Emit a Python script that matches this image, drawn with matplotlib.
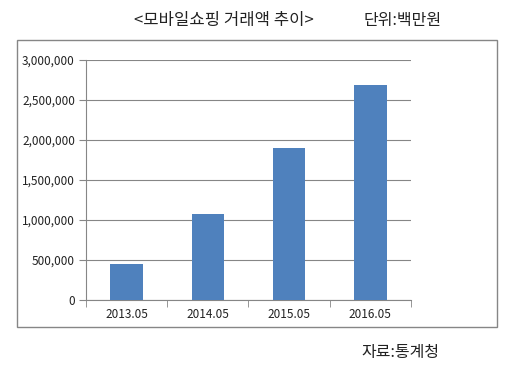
import numpy as np
import matplotlib.pyplot as plt
from matplotlib.patches import Rectangle
from matplotlib.ticker import FuncFormatter

plt.rcParams['font.family'] = ['Noto Sans CJK KR', 'DejaVu Sans']

# data (unit: million won)
periods = ['2013.05', '2014.05', '2015.05', '2016.05']
amounts = [450000, 1075000, 1900000, 2690000]
yticks = [0, 500000, 1000000, 1500000, 2000000, 2500000, 3000000]

W, H = 514, 371
fig = plt.figure(figsize=(W / 100, H / 100), dpi=100)
ax = fig.add_axes([86 / W, 1 - 300 / H, (411 - 86) / W, 240 / H])

x = np.arange(len(periods))
ax.bar(x, amounts, width=0.4, color='#4f81bd', zorder=3)

ax.set_xlim(-0.5, len(periods) - 0.5)
ax.set_ylim(0, 3000000)
ax.set_yticks(yticks)
ax.yaxis.set_major_formatter(FuncFormatter(lambda v, p: f'{int(v):,}'))
ax.set_xticks(x)
ax.set_xticklabels(periods)
ax.set_xticks(np.arange(len(periods) + 1) - 0.5, minor=True)
ax.tick_params(axis='x', which='major', length=0, pad=6, labelsize=8.5, labelcolor='#222222')
ax.tick_params(axis='x', which='minor', length=5, color='#868686', direction='out')
ax.tick_params(axis='y', length=5, color='#868686', pad=3, labelsize=8.5, labelcolor='#222222')
ax.grid(axis='y', color='#868686', linewidth=0.8, zorder=0)

for s in ['top', 'right']:
    ax.spines[s].set_visible(False)
ax.spines['left'].set_color('#868686')
ax.spines['bottom'].set_color('#868686')

# outer chart frame
fig.patches.append(Rectangle((17 / W, 1 - 327 / H), (497 - 17) / W, (327 - 40) / H,
                             transform=fig.transFigure, fill=False,
                             edgecolor='#868686', linewidth=1))

fig.text(224 / W, 1 - 21 / H, '<모바일쇼핑 거래액 추이>', ha='center', va='center', fontsize=12, color='#222222')
fig.text(403 / W, 1 - 21 / H, '단위:백만원', ha='center', va='center', fontsize=11.5, color='#222222')
fig.text(401 / W, 1 - 352 / H, '자료:통계청', ha='center', va='center', fontsize=11.5, color='#222222')

fig.savefig('out.png', dpi=100)
